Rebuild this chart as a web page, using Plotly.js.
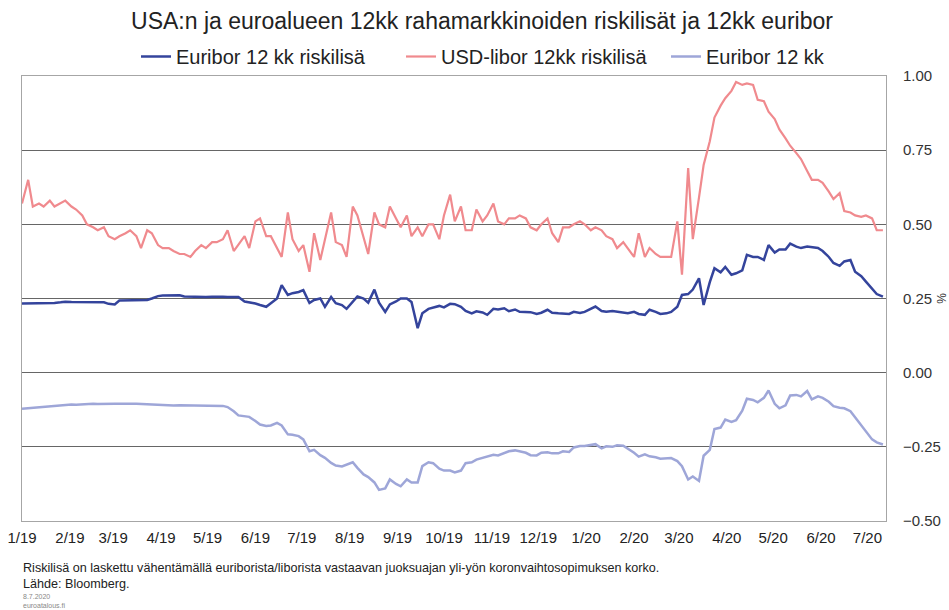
<!DOCTYPE html>
<html>
<head>
<meta charset="utf-8">
<script src="https://cdn.plot.ly/plotly-3.0.1.min.js"></script>
<style>html,body{margin:0;padding:0;background:#fff;}#chart{width:949px;height:610px;}</style>
</head>
<body>
<div id="chart"></div>
<script>
// Observation dates: twice a week from 1 Jan 2019
const startDate = '2019-01-01';
const stepDays = 3.5;
const nObs = 160;

const seriesNames = ['Euribor 12 kk riskilisä', 'USD-libor 12kk riskilisä', 'Euribor 12 kk'];

const euriborSpread = [
  0.233, 0.233, 0.234, 0.233, 0.234, 0.233, 0.235, 0.237, 0.239, 0.238,
  0.238, 0.239, 0.238, 0.237, 0.238, 0.237, 0.232, 0.230, 0.243, 0.244,
  0.244, 0.245, 0.244, 0.245, 0.250, 0.258, 0.260, 0.261, 0.262, 0.261,
  0.257, 0.256, 0.257, 0.256, 0.255, 0.256, 0.257, 0.256, 0.255, 0.256,
  0.255, 0.240, 0.238, 0.233, 0.228, 0.222, 0.234, 0.250, 0.295, 0.262,
  0.268, 0.272, 0.278, 0.235, 0.245, 0.250, 0.222, 0.255, 0.234, 0.228,
  0.215, 0.240, 0.257, 0.250, 0.236, 0.280, 0.236, 0.205, 0.230, 0.240,
  0.250, 0.250, 0.238, 0.150, 0.200, 0.215, 0.220, 0.225, 0.220, 0.232,
  0.231, 0.222, 0.208, 0.200, 0.207, 0.203, 0.195, 0.215, 0.213, 0.217,
  0.207, 0.213, 0.205, 0.203, 0.204, 0.198, 0.202, 0.212, 0.202, 0.200,
  0.200, 0.198, 0.205, 0.201, 0.205, 0.215, 0.223, 0.208, 0.205, 0.208,
  0.205, 0.203, 0.200, 0.205, 0.198, 0.195, 0.212, 0.205, 0.198, 0.200,
  0.205, 0.222, 0.262, 0.265, 0.280, 0.318, 0.228, 0.305, 0.352, 0.338,
  0.356, 0.330, 0.335, 0.345, 0.397, 0.390, 0.390, 0.380, 0.430, 0.405,
  0.415, 0.415, 0.435, 0.425, 0.420, 0.425, 0.422, 0.420, 0.410, 0.390,
  0.370, 0.360, 0.375, 0.380, 0.340, 0.325, 0.307, 0.284, 0.265, 0.256
];

const usdLiborSpread = [
  0.57, 0.65, 0.56, 0.57, 0.56, 0.58, 0.56, 0.57, 0.58, 0.56,
  0.55, 0.53, 0.50, 0.49, 0.48, 0.49, 0.46, 0.45, 0.46, 0.47,
  0.48, 0.46, 0.42, 0.48, 0.47, 0.43, 0.42, 0.42, 0.41, 0.40,
  0.40, 0.39, 0.41, 0.43, 0.42, 0.44, 0.44, 0.45, 0.48, 0.41,
  0.43, 0.46, 0.42, 0.51, 0.52, 0.46, 0.46, 0.42, 0.39, 0.54,
  0.45, 0.41, 0.43, 0.34, 0.47, 0.38, 0.45, 0.54, 0.44, 0.43,
  0.39, 0.56, 0.53, 0.46, 0.40, 0.54, 0.50, 0.49, 0.56, 0.52,
  0.49, 0.53, 0.46, 0.49, 0.46, 0.50, 0.50, 0.45, 0.53, 0.60,
  0.51, 0.56, 0.48, 0.48, 0.55, 0.51, 0.53, 0.57, 0.51, 0.50,
  0.52, 0.52, 0.53, 0.52, 0.49, 0.48, 0.50, 0.52, 0.47, 0.44,
  0.49, 0.49, 0.50, 0.51, 0.50, 0.48, 0.49, 0.48, 0.46, 0.45,
  0.42, 0.44, 0.42, 0.39, 0.47, 0.39, 0.42, 0.40, 0.39, 0.39,
  0.39, 0.51, 0.33, 0.69, 0.45, 0.59, 0.70, 0.78, 0.86, 0.90,
  0.925, 0.95, 0.98, 0.97, 0.975, 0.97, 0.92, 0.915, 0.88, 0.855,
  0.82, 0.79, 0.765, 0.74, 0.72, 0.68, 0.65, 0.65, 0.64, 0.61,
  0.585, 0.605, 0.545, 0.54, 0.53, 0.525, 0.53, 0.52, 0.48, 0.48
];

const euribor12 = [
  -0.122, -0.120, -0.118, -0.117, -0.116, -0.114, -0.112, -0.109, -0.108, -0.107,
  -0.108, -0.107, -0.105, -0.105, -0.106, -0.105, -0.104, -0.105, -0.105, -0.104,
  -0.105, -0.105, -0.106, -0.106, -0.108, -0.110, -0.110, -0.110, -0.111, -0.110,
  -0.110, -0.110, -0.111, -0.110, -0.110, -0.111, -0.111, -0.112, -0.116, -0.130,
  -0.144, -0.146, -0.149, -0.163, -0.175, -0.180, -0.178, -0.169, -0.178, -0.208,
  -0.209, -0.214, -0.225, -0.265, -0.260, -0.278, -0.287, -0.304, -0.313, -0.316,
  -0.310, -0.302, -0.321, -0.343, -0.352, -0.370, -0.395, -0.390, -0.360, -0.375,
  -0.383, -0.360, -0.370, -0.370, -0.315, -0.302, -0.305, -0.324, -0.330, -0.330,
  -0.336, -0.330, -0.305, -0.302, -0.293, -0.287, -0.285, -0.277, -0.279, -0.272,
  -0.265, -0.262, -0.265, -0.270, -0.278, -0.279, -0.270, -0.268, -0.272, -0.272,
  -0.265, -0.267, -0.252, -0.247, -0.247, -0.243, -0.241, -0.255, -0.248, -0.250,
  -0.245, -0.246, -0.256, -0.270, -0.283, -0.275, -0.282, -0.285, -0.290, -0.290,
  -0.288, -0.298, -0.315, -0.360, -0.350, -0.365, -0.280, -0.260, -0.190, -0.185,
  -0.158, -0.166, -0.160, -0.128, -0.088, -0.092, -0.100, -0.085, -0.060, -0.105,
  -0.120, -0.110, -0.077, -0.075, -0.080, -0.062, -0.090, -0.080, -0.085, -0.098,
  -0.113, -0.118, -0.120, -0.130, -0.150, -0.178, -0.198, -0.225, -0.235, -0.242
];

const tickDates = ['2019-01-01','2019-02-01','2019-03-01','2019-04-01','2019-05-01','2019-06-01',
  '2019-07-01','2019-08-01','2019-09-01','2019-10-01','2019-11-01','2019-12-01',
  '2020-01-01','2020-02-01','2020-03-01','2020-04-01','2020-05-01','2020-06-01','2020-07-01'];
const tickLabels = ['1/19','2/19','3/19','4/19','5/19','6/19','7/19','8/19','9/19','10/19',
  '11/19','12/19','1/20','2/20','3/20','4/20','5/20','6/20','7/20'];

const yTicks = [-0.5, -0.25, 0, 0.25, 0.5, 0.75, 1.0];

const dates = [];
const t0 = Date.parse(startDate + 'T00:00:00Z');
for (let k = 0; k < nObs; k++) {
  dates.push(new Date(t0 + Math.round(k * stepDays) * 86400000).toISOString().slice(0, 10));
}

const FONT = 'Liberation Sans, Arial, sans-serif';

const traces = [
  {x: dates, y: euriborSpread, name: seriesNames[0], type: 'scatter', mode: 'lines',
   line: {color: '#34449c', width: 2.5}},
  {x: dates, y: usdLiborSpread, name: seriesNames[1], type: 'scatter', mode: 'lines',
   line: {color: '#f08a8e', width: 2.2}},
  {x: dates, y: euribor12, name: seriesNames[2], type: 'scatter', mode: 'lines',
   line: {color: '#9ea6d8', width: 2.5}}
];

const layout = {
  width: 949, height: 610,
  margin: {l: 22, r: 63, t: 76, b: 89},
  paper_bgcolor: '#ffffff', plot_bgcolor: '#ffffff',
  font: {family: FONT, color: '#222'},
  showlegend: true,
  title: {text: 'USA:n ja euroalueen 12kk rahamarkkinoiden riskilisät ja 12kk euribor',
    font: {family: FONT, size: 23, color: '#222'},
    x: 482/949, xref: 'container', xanchor: 'center',
    y: 1 - 21/610, yref: 'container', yanchor: 'middle'},
  legend: {orientation: 'h', xref: 'container', yref: 'container',
    x: 136/949, xanchor: 'left', y: 1 - 37/610, yanchor: 'top',
    entrywidth: 220, entrywidthmode: 'pixels',
    font: {family: FONT, size: 20, color: '#222'}, bgcolor: 'rgba(0,0,0,0)'},
  xaxis: {type: 'date', range: ['2019-01-01', '2020-07-13'],
    tickmode: 'array', tickvals: tickDates, ticktext: tickLabels,
    showgrid: false, zeroline: false, ticks: '',
    showline: true, mirror: true, linecolor: '#a6a6a6', linewidth: 1,
    tickfont: {family: FONT, size: 15, color: '#222'}, ticklabelstandoff: 3},
  yaxis: {side: 'right', range: [-0.5, 1.0], tickmode: 'array', tickvals: yTicks,
    tickformat: '.2f', showgrid: true, gridcolor: '#666', gridwidth: 1,
    zeroline: true, zerolinecolor: '#666', zerolinewidth: 1, ticks: '',
    showline: true, mirror: true, linecolor: '#a6a6a6', linewidth: 1,
    tickfont: {family: FONT, size: 15, color: '#333'}, ticklabelstandoff: 13,
    title: {text: '%', font: {family: FONT, size: 12, color: '#333'}, standoff: 4}},
  annotations: [
    {text: 'Riskilisä on laskettu vähentämällä euriborista/liborista vastaavan juoksuajan yli-yön koronvaihtosopimuksen korko.<br>Lähde: Bloomberg.',
     xref: 'paper', yref: 'paper', x: 0, y: (521-576)/445, xanchor: 'left', yanchor: 'middle',
     align: 'left', borderpad: 0,
     showarrow: false, font: {family: FONT, size: 12.6, color: '#222'}},
    {text: '8.7.2020<br>euroatalous.fi',
     xref: 'paper', yref: 'paper', x: 0, y: (521-601)/445, xanchor: 'left', yanchor: 'middle',
     align: 'left', borderpad: 0,
     showarrow: false, font: {family: FONT, size: 7, color: '#888'}}
  ]
};

Plotly.newPlot('chart', traces, layout, {displayModeBar: false, staticPlot: true});
</script>
</body>
</html>
